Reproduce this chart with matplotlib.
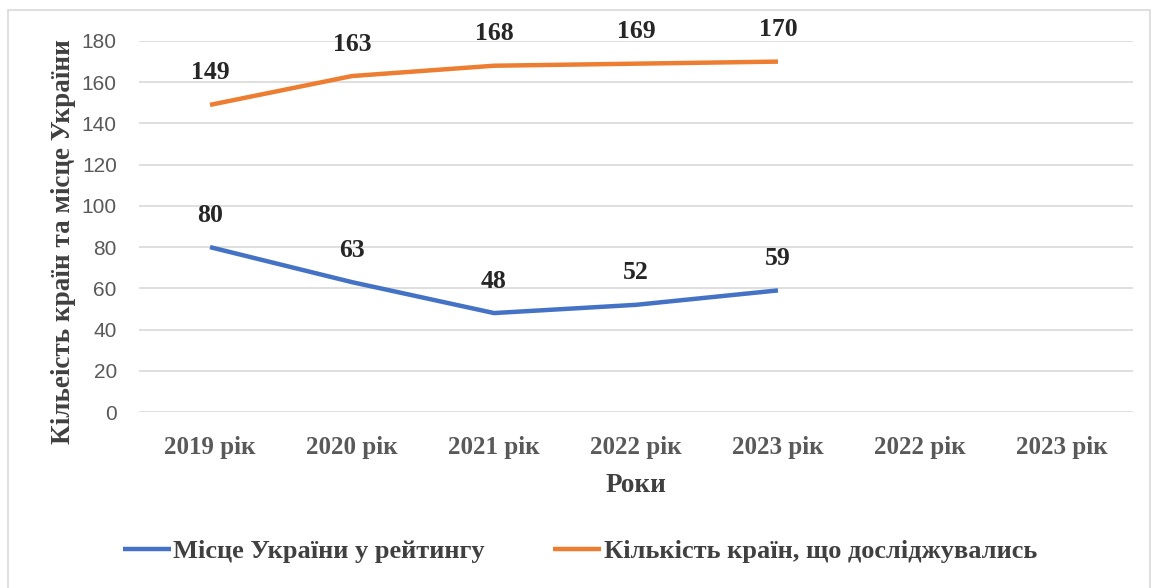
import matplotlib.pyplot as plt
from matplotlib.patches import Rectangle

# data
categories = ["2019 рік", "2020 рік", "2021 рік", "2022 рік", "2023 рік", "2022 рік", "2023 рік"]
place_ukraine = [80, 63, 48, 52, 59]
countries_total = [149, 163, 168, 169, 170]
yticks = [0, 20, 40, 60, 80, 100, 120, 140, 160, 180]

blue = "#4472C4"
orange = "#ED7D31"
serif = ["Liberation Serif", "DejaVu Serif"]

fig = plt.figure(figsize=(11.66, 5.88), dpi=100)
ax = fig.add_axes([139 / 1166, 1 - 412 / 588, (1133 - 139) / 1166, (412 - 41) / 588])

# outer light frame like the Excel chart area
fig.patches.append(Rectangle((8 / 1166, -0.01), 1142 / 1166, 1 - 10 / 588 + 0.01,
                             transform=fig.transFigure, fill=False,
                             edgecolor="#d9d9d9", lw=1.2))

x = list(range(len(categories)))
ax.plot(x[:len(place_ukraine)], place_ukraine, color=blue, lw=3.2,
        solid_capstyle="butt", label="Місце України у рейтингу")
ax.plot(x[:len(countries_total)], countries_total, color=orange, lw=3.2,
        solid_capstyle="butt", label="Кількість країн, що досліджувались")

for series in (place_ukraine, countries_total):
    for xi, v in zip(x, series):
        ax.annotate(str(v), (xi, v), xytext=(0, 23), textcoords="offset points",
                    ha="center", va="center", fontsize=18.5, fontweight="bold",
                    family=serif, color="#262626")

ax.set_xlim(-0.5, len(categories) - 0.5)
ax.set_ylim(0, 180)
ax.set_yticks(yticks)
ax.set_xticks(x)
ax.set_xticklabels(categories, fontsize=18, fontweight="bold", family=serif, color="#595959")
for lab in ax.get_yticklabels():
    lab.set_family(["Liberation Sans", "DejaVu Sans"])
    lab.set_fontsize(15)
    lab.set_color("#595959")
ax.tick_params(axis="both", length=0)
ax.tick_params(axis="y", pad=16)
ax.tick_params(axis="x", pad=17)
ax.grid(axis="y", color="#d9d9d9", lw=1.2)
ax.set_axisbelow(True)
for s in ax.spines.values():
    s.set_visible(False)

ax.set_xlabel("Роки", fontsize=19.5, fontweight="bold", family=serif, color="#404040", labelpad=10)
ax.set_ylabel("Кільеість країн та місце України", fontsize=19.5, fontweight="bold",
              family=serif, color="#404040")
ax.yaxis.set_label_coords(-0.063, 0.46)

fig.legend(loc="center", bbox_to_anchor=(580 / 1166, 1 - 551 / 588), ncol=2, frameon=False,
           prop={"family": serif, "weight": "bold", "size": 19}, handlelength=1.8,
           handletextpad=0.1, columnspacing=2.6, labelcolor="#404040")

fig.savefig("out.png", dpi=100)
